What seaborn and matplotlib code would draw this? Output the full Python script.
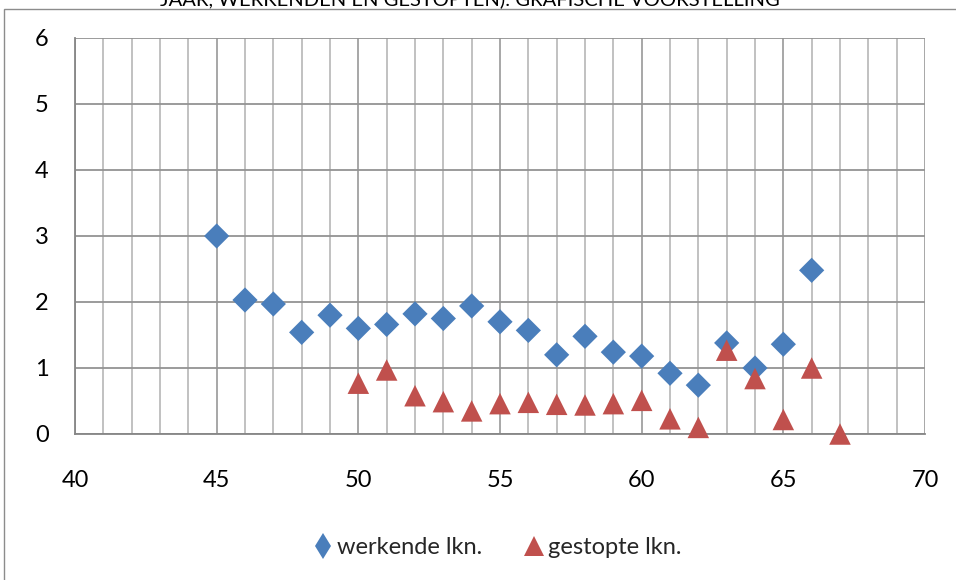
import numpy as np
import pandas as pd
import matplotlib
matplotlib.use("Agg")
import matplotlib.pyplot as plt
import seaborn as sns
from matplotlib.patches import Rectangle
from matplotlib.lines import Line2D

# ---- data ----
age_work = [45, 46, 47, 48, 49, 50, 51, 52, 53, 54, 55, 56, 57, 58, 59, 60, 61, 62, 63, 64, 65, 66]
val_work = [3.00, 2.03, 1.97, 1.54, 1.80, 1.60, 1.66, 1.82, 1.75, 1.94, 1.70, 1.57, 1.20, 1.48,
            1.24, 1.18, 0.92, 0.74, 1.38, 1.00, 1.36, 2.48]
age_stop = [50, 51, 52, 53, 54, 55, 56, 57, 58, 59, 60, 61, 62, 63, 64, 65, 66, 67]
val_stop = [0.77, 0.97, 0.58, 0.49, 0.35, 0.46, 0.48, 0.45, 0.44, 0.46, 0.51, 0.23, 0.10,
            1.27, 0.84, 0.22, 1.00, 0.00]
series_names = ["werkende lkn.", "gestopte lkn."]
x_ticks = [40, 45, 50, 55, 60, 65, 70]
y_ticks = [0, 1, 2, 3, 4, 5, 6]
title_text = "JAAR, WERKENDEN EN GESTOPTEN): GRAFISCHE VOORSTELLING"

df = pd.DataFrame({
    "leeftijd": age_work + age_stop,
    "waarde": val_work + val_stop,
    "reeks": [series_names[0]] * len(age_work) + [series_names[1]] * len(age_stop),
})

sns.set_theme(style="white")
plt.rcParams["font.family"] = ["Lato", "DejaVu Sans"]

W, H = 956, 580
fig = plt.figure(figsize=(W / 100, H / 100), dpi=100)
ax = fig.add_axes([75 / W, 1 - 434 / H, 850 / W, 396 / H])

# outer frame (chart area border)
fig.patches.append(Rectangle((4 / W, -0.05), 1.2, 1 - 9 / H + 0.05, transform=fig.transFigure,
                             fill=False, edgecolor="#8c8c8c", lw=1.0, zorder=0))

palette = {series_names[0]: "#4A7EBB", series_names[1]: "#C0504D"}
markers = {series_names[0]: "D", series_names[1]: "^"}
sizes = {series_names[0]: 165, series_names[1]: 240}
sns.scatterplot(data=df, x="leeftijd", y="waarde", hue="reeks", style="reeks", size="reeks",
                sizes=sizes, palette=palette, markers=markers, linewidth=0, ax=ax,
                zorder=3, clip_on=False, legend=False)

ax.set_xlim(40, 70)
ax.set_ylim(0, 6)
ax.set_xticks(x_ticks)
ax.set_xticks(np.arange(40, 71, 1), minor=True)
ax.set_yticks(y_ticks)
ax.grid(True, which="major", axis="x", color="#a0a0a0", lw=1.3)
ax.grid(True, which="minor", axis="x", color="#bcbcbc", lw=1.3)
ax.grid(True, which="major", axis="y", color="#939393", lw=1.3)
ax.set_axisbelow(True)
for side in ["top", "right"]:
    ax.spines[side].set_visible(False)
for side in ["left", "bottom"]:
    ax.spines[side].set_color("#868686")
    ax.spines[side].set_linewidth(1.3)
ax.tick_params(axis="both", which="major", direction="out", length=7, width=1.3,
               color="#868686", labelsize=17, labelcolor="black")
ax.tick_params(axis="x", which="minor", length=0)
ax.tick_params(axis="x", pad=19)
ax.tick_params(axis="y", pad=12)
ax.set_xlabel("")
ax.set_ylabel("")

handles = [
    Line2D([], [], ls="none", marker="d", ms=13.5, mew=0, color=palette[series_names[0]]),
    Line2D([], [], ls="none", marker="^", ms=14, mew=0, color=palette[series_names[1]]),
]
ax.legend(handles=handles, labels=series_names, loc="center",
          bbox_to_anchor=(495 / W, 1 - 548 / H), bbox_transform=fig.transFigure,
          ncol=2, frameon=False, fontsize=17, handletextpad=0.0, columnspacing=1.6,
          handlelength=1.2)

fig.text(470 / W, 1 - 5 / H, title_text, ha="center", va="baseline", fontsize=14.5, color="black")

fig.savefig("out.png", dpi=100, facecolor="white")
